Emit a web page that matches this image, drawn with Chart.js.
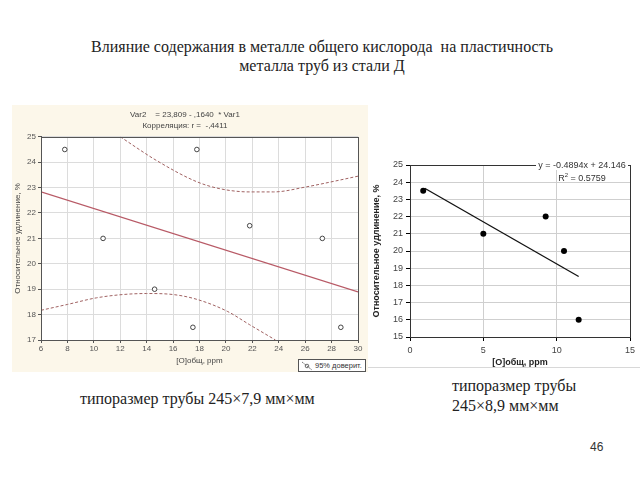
<!DOCTYPE html>
<html><head><meta charset="utf-8">
<script src="https://cdn.jsdelivr.net/npm/chart.js@4/dist/chart.umd.min.js"></script>
<style>
html,body{margin:0;padding:0;background:#fff;width:640px;height:480px;overflow:hidden;position:relative;font-family:"Liberation Serif","Times New Roman",serif;}
.abs{position:absolute;}
#title{left:0;width:644px;top:37px;text-align:center;font-size:16px;line-height:19px;color:#222;}
#capL{left:80px;top:389px;font-size:16px;line-height:19px;color:#222;white-space:nowrap;}
#capR{left:452px;top:376px;font-size:16px;line-height:20px;color:#222;white-space:nowrap;}
#pnum{left:590px;top:440px;font-family:"Liberation Sans",Arial,sans-serif;font-size:12px;color:#333;}
#wrapL{left:12px;top:105px;width:356px;height:267px;background:#fcf7ea;}
#wrapR{left:368px;top:150px;width:272px;height:217px;overflow:hidden;border-bottom:1px solid #d8d8d8;background:#fff;}
#legL{left:298px;top:359px;width:66px;height:11px;border:1px solid #555;background:#fff;font-family:"Liberation Sans",Arial,sans-serif;font-size:7.5px;line-height:11px;color:#333;white-space:nowrap;overflow:hidden;}
#legL svg{vertical-align:top;margin:0 2px 0 2px;}
#eq{left:535px;top:159px;width:94px;text-align:center;font-family:"Liberation Sans",Arial,sans-serif;font-size:9px;line-height:12.5px;color:#333;}
#eq span{background:#fff;padding:0 2px;}
</style></head>
<body>
<div id="title" class="abs">Влияние содержания в металле общего кислорода&nbsp; на пластичность<br>металла труб из стали Д</div>
<div id="wrapL" class="abs"><canvas id="cL" width="356" height="267"></canvas></div>
<div id="legL" class="abs"><svg width="12" height="11" viewBox="0 0 12 11"><line x1="1" y1="2" x2="11" y2="10" stroke="#555" stroke-width="0.8" stroke-dasharray="2,1"/><circle cx="6" cy="6" r="1.8" fill="none" stroke="#333" stroke-width="0.7"/></svg>95% доверит.</div>
<div id="wrapR" class="abs"><canvas id="cR" width="272" height="226"></canvas></div>
<div id="eq" class="abs"><span>y = -0.4894x + 24.146</span><br>R<sup style="font-size:6px;line-height:0">2</sup> = 0.5759</div>
<div id="capL" class="abs">типоразмер трубы 245×7,9 мм×мм</div>
<div id="capR" class="abs">типоразмер трубы<br>245×8,9 мм×мм</div>
<div id="pnum" class="abs">46</div>
<script>
// ---- Left chart (245×7,9) data ----
const leftX = [7.8, 10.7, 14.6, 17.5, 17.8, 21.8, 27.3, 28.7];
const leftY = [24.5, 21, 19, 17.5, 24.5, 21.5, 21, 17.5];
const leftFitX = [6, 30];
const leftFitY = [22.83, 18.89];
const upperBandX = [12, 14.8, 17.8, 19.6, 21.8, 23.6, 26.1, 28.2, 30];
const upperBandY = [25, 24.05, 23.23, 22.95, 22.83, 22.83, 23.03, 23.25, 23.45];
const lowerBandX = [6, 8, 10.2, 12.2, 14, 16, 17.8, 20.1, 21.8, 23.75];
const lowerBandY = [18.17, 18.4, 18.66, 18.79, 18.83, 18.79, 18.6, 18.13, 17.6, 17.0];
const leftXTicks = [6, 8, 10, 12, 14, 16, 18, 20, 22, 24, 26, 28, 30];
const leftYTicks = [17, 18, 19, 20, 21, 22, 23, 24, 25];
const leftTitle = ['Var2    = 23,809 - ,1640  * Var1', 'Корреляция: r =  -,4411'];
const leftXTitle = '[O]общ, ppm';
const leftYTitle = 'Относительное удлинение, %';

// ---- Right chart (245×8,9) data ----
const rightX = [0.9, 5, 9.25, 10.5, 11.5];
const rightY = [23.5, 21, 22, 20, 16];
const rightFitX = [1.0, 11.5];
const rightFitY = [23.65, 18.52];
const rightXTicks = [0, 5, 10, 15];
const rightYTicks = [15, 16, 17, 18, 19, 20, 21, 22, 23, 24, 25];
const rightXTitle = '[O]общ, ppm';
const rightYTitle = 'Относительное удлинение, %';

const pts = (xs, ys) => xs.map((x, i) => ({x, y: ys[i]}));
Chart.defaults.font.family = '"Liberation Sans", Arial, sans-serif';

const framePlugin = {
  id: 'frame',
  beforeDraw(chart, args, opts) {
    const a = chart.chartArea, c = chart.ctx;
    c.save(); c.fillStyle = opts.fill || '#fff';
    c.fillRect(a.left, a.top, a.right - a.left, a.bottom - a.top);
    c.restore();
  },
  afterDraw(chart, args, opts) {
    const a = chart.chartArea, c = chart.ctx;
    c.save(); c.strokeStyle = opts.color || '#444'; c.lineWidth = 1;
    c.strokeRect(Math.round(a.left) + 0.5, Math.round(a.top) + 0.5, Math.round(a.right - a.left), Math.round(a.bottom - a.top));
    c.restore();
  }
};

new Chart(document.getElementById('cL'), {
  type: 'scatter',
  data: { datasets: [
    { data: pts(upperBandX, upperBandY), showLine: true, pointRadius: 0, borderColor: '#a06262', borderWidth: 1, borderDash: [3, 2], cubicInterpolationMode: 'monotone' },
    { data: pts(lowerBandX, lowerBandY), showLine: true, pointRadius: 0, borderColor: '#a06262', borderWidth: 1, borderDash: [3, 2], cubicInterpolationMode: 'monotone' },
    { data: pts(leftFitX, leftFitY), showLine: true, pointRadius: 0, borderColor: '#b85a66', borderWidth: 1.3 },
    { data: pts(leftX, leftY), pointRadius: 2.3, pointStyle: 'circle', borderColor: '#333', borderWidth: 0.9, backgroundColor: '#fff' }
  ]},
  options: {
    responsive: false, animation: false, devicePixelRatio: 1,
    layout: { padding: { left: 0, right: 10, top: 0, bottom: 0 } },
    plugins: {
      legend: { display: false }, tooltip: { enabled: false },
      title: { display: true, text: leftTitle, color: '#444', font: { size: 8, weight: 'normal', lineHeight: 1.3 }, padding: { top: 5, bottom: 6 } },
      frame: { color: '#555', fill: '#fff' }
    },
    scales: {
      x: { type: 'linear', min: 6, max: 30,
        afterBuildTicks: s => { s.ticks = leftXTicks.map(v => ({value: v})); },
        afterFit: s => { s.height = 32; },
        ticks: { color: '#555', font: { size: 8 }, padding: 1, maxRotation: 0, autoSkip: false },
        grid: { color: '#dcdcdc', tickColor: '#555', tickLength: 3 },
        border: { color: '#555' },
        title: { display: true, text: leftXTitle, color: '#444', font: { size: 8 }, padding: { top: 0, bottom: 6 } } },
      y: { type: 'linear', min: 17, max: 25,
        afterBuildTicks: s => { s.ticks = leftYTicks.map(v => ({value: v})); },
        afterFit: s => { s.width = 29; },
        ticks: { color: '#555', font: { size: 8 }, padding: 2, autoSkip: false },
        grid: { color: '#dcdcdc', tickColor: '#555', tickLength: 3 },
        border: { color: '#555' },
        title: { display: true, text: leftYTitle, color: '#444', font: { size: 8 }, padding: { top: 1, bottom: 0 } } }
    }
  },
  plugins: [framePlugin]
});

new Chart(document.getElementById('cR'), {
  type: 'scatter',
  data: { datasets: [
    { data: pts(rightFitX, rightFitY), showLine: true, pointRadius: 0, borderColor: '#111', borderWidth: 1.3 },
    { data: pts(rightX, rightY), pointRadius: 3, pointStyle: 'circle', borderColor: '#000', borderWidth: 0, backgroundColor: '#000' }
  ]},
  options: {
    responsive: false, animation: false, devicePixelRatio: 1,
    layout: { padding: { left: 0, right: 10, top: 15, bottom: 0 } },
    plugins: { legend: { display: false }, tooltip: { enabled: false }, frame: { color: '#333', fill: '#fff' } },
    scales: {
      x: { type: 'linear', min: 0, max: 15,
        afterBuildTicks: s => { s.ticks = rightXTicks.map(v => ({value: v})); },
        afterFit: s => { s.height = 39; },
        ticks: { color: '#444', font: { size: 9 }, padding: 4, maxRotation: 0, autoSkip: false },
        grid: { color: '#cfcfcf', tickColor: '#000', tickLength: 4 },
        border: { color: '#000' },
        title: { display: true, text: rightXTitle, color: '#222', font: { size: 9, weight: 'bold' }, padding: { top: 0, bottom: 8 } } },
      y: { type: 'linear', min: 15, max: 25,
        afterBuildTicks: s => { s.ticks = rightYTicks.map(v => ({value: v})); },
        afterFit: s => { s.width = 42; },
        ticks: { color: '#444', font: { size: 9 }, padding: 3, autoSkip: false },
        grid: { color: '#cfcfcf', tickColor: '#000', tickLength: 4 },
        border: { color: '#000' },
        title: { display: true, text: rightYTitle, color: '#222', font: { size: 9, weight: 'bold' }, padding: { top: 3, bottom: 0 } } }
    }
  },
  plugins: [framePlugin]
});
</script>
</body></html>
